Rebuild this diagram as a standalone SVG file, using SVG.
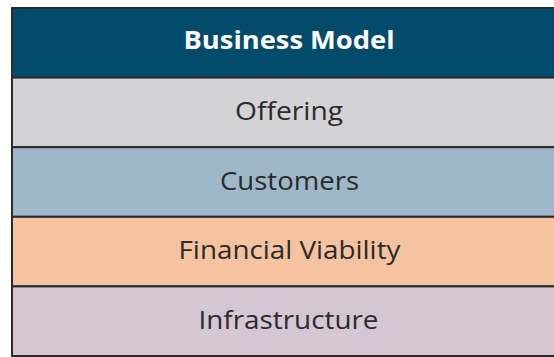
<svg xmlns="http://www.w3.org/2000/svg" width="554" height="357" viewBox="0 0 554 357">
<style>
.row{stroke:#2a2a2a;stroke-width:2}
.t{font-family:"Open Sans","Noto Sans",sans-serif;font-size:25px;fill:#2b2b2b;text-anchor:middle}
.h{font-family:"Open Sans","Noto Sans",sans-serif;font-size:25px;font-weight:bold;fill:#ffffff;text-anchor:middle}
</style>
<rect x="0" y="0" width="554" height="357" fill="#ffffff"/>
<g id="header">
<rect class="row" x="12" y="8" width="560" height="69.6" fill="#034b6d"/>
<text class="h" x="289" y="49" textLength="211" lengthAdjust="spacingAndGlyphs">Business Model</text>
</g>
<g id="offering">
<rect class="row" x="12" y="77.6" width="560" height="69.6" fill="#d3d3d5"/>
<text class="t" x="289" y="119.5" textLength="108" lengthAdjust="spacingAndGlyphs">Offering</text>
</g>
<g id="customers">
<rect class="row" x="12" y="147.2" width="560" height="69.6" fill="#9eb8c9"/>
<text class="t" x="289.5" y="190" textLength="139" lengthAdjust="spacingAndGlyphs">Customers</text>
</g>
<g id="financial">
<rect class="row" x="12" y="216.8" width="560" height="69.6" fill="#f5c39f"/>
<text class="t" x="289.5" y="259.3" textLength="222" lengthAdjust="spacingAndGlyphs">Financial Viability</text>
</g>
<g id="infrastructure">
<rect class="row" x="12" y="286.4" width="560" height="69.6" fill="#d4c6d3"/>
<text class="t" x="288.5" y="329.3" textLength="180" lengthAdjust="spacingAndGlyphs">Infrastructure</text>
</g>
<g id="connectors"></g>
</svg>
